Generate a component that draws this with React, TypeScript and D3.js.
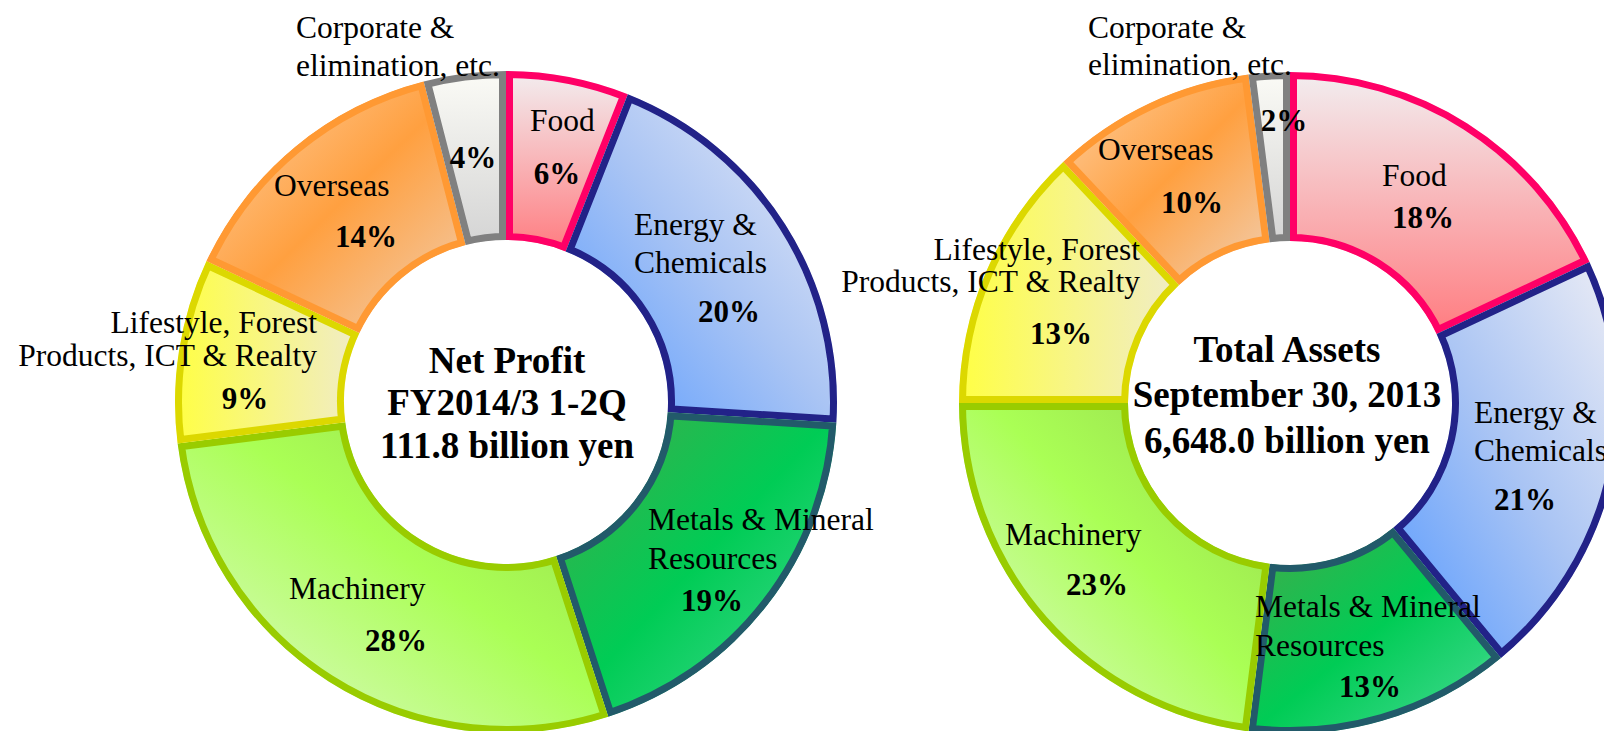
import React, { useEffect } from "react";
import * as d3 from "d3";

// ---------- data ----------
const segmentNames = [
  "Food",
  "Energy & Chemicals",
  "Metals & Mineral Resources",
  "Machinery",
  "Lifestyle, Forest Products, ICT & Realty",
  "Overseas",
  "Corporate & elimination, etc.",
];
const segmentLabelLines = [
  ["Food"],
  ["Energy &", "Chemicals"],
  ["Metals & Mineral", "Resources"],
  ["Machinery"],
  ["Lifestyle, Forest", "Products, ICT & Realty"],
  ["Overseas"],
  ["Corporate &", "elimination, etc."],
];
const netProfitShares = [6, 20, 19, 28, 9, 14, 4];
const totalAssetsShares = [18, 21, 13, 23, 13, 10, 2];
const netProfitTitle = ["Net Profit", "FY2014/3 1-2Q", "111.8 billion yen"];
const totalAssetsTitle = ["Total Assets", "September 30, 2013", "6,648.0 billion yen"];

// ---------- styles ----------
const W = 1604;
const H = 731;
const R_OUT = 331;
const R_IN = 162;
const STROKE = 7;
const FONT = "'Liberation Serif', 'Times New Roman', Times, serif";

const strokeColors = ["#ff0066", "#222288", "#225a6a", "#99cc00", "#dcd800", "#ff9933", "#808080"];
type Stop = [number, string];
const gradients: { x1: number; y1: number; x2: number; y2: number; stops: Stop[] }[] = [
  { x1: 0, y1: 0, x2: 0, y2: 1, stops: [[0, "#f2eef0"], [1, "#ff7c80"]] },
  { x1: 0, y1: 1, x2: 1, y2: 0, stops: [[0, "#5599ff"], [0.5, "#a9c4f4"], [1, "#eeeef5"]] },
  { x1: 0, y1: 0, x2: 1, y2: 1, stops: [[0, "#46a84a"], [0.5, "#00cc55"], [0.78, "#2ad47a"], [1, "#c4eec4"]] },
  { x1: 1, y1: 0, x2: 0, y2: 1, stops: [[0, "#96d64e"], [0.45, "#aaff55"], [1, "#e4f8d4"]] },
  { x1: 0, y1: 0.5, x2: 1, y2: 0.5, stops: [[0, "#ffff44"], [1, "#f0ecc8"]] },
  { x1: 0, y1: 0, x2: 1, y2: 1, stops: [[0, "#fdd2a6"], [0.5, "#ffa040"], [1, "#f0d0b4"]] },
  { x1: 0, y1: 0, x2: 0, y2: 1, stops: [[0, "#fbfbf6"], [1, "#d4d4d4"]] },
];

// ---------- layout (label anchors, absolute page coords) ----------
type LabelPos = { nx: number; ny: number[]; anchor: "start" | "end" | "middle"; px: number; py: number };
const netProfitLayout = {
  cx: 506,
  cy: 402,
  titleX: 507,
  titleY: [373, 415, 458],
  labels: [
    { nx: 530, ny: [131], anchor: "start", px: 557, py: 184 },
    { nx: 634, ny: [235, 273], anchor: "start", px: 729, py: 322 },
    { nx: 648, ny: [530, 569], anchor: "start", px: 712, py: 611 },
    { nx: 289, ny: [599], anchor: "start", px: 396, py: 651 },
    { nx: 317, ny: [333, 366], anchor: "end", px: 245, py: 409 },
    { nx: 274, ny: [196], anchor: "start", px: 366, py: 247 },
    { nx: 296, ny: [38, 76], anchor: "start", px: 473, py: 168 },
  ] as LabelPos[],
};
const totalAssetsLayout = {
  cx: 1290,
  cy: 403,
  titleX: 1287,
  titleY: [362, 407, 453],
  labels: [
    { nx: 1382, ny: [186], anchor: "start", px: 1423, py: 228 },
    { nx: 1474, ny: [423, 461], anchor: "start", px: 1525, py: 510 },
    { nx: 1255, ny: [617, 656], anchor: "start", px: 1370, py: 697 },
    { nx: 1005, ny: [545], anchor: "start", px: 1097, py: 595 },
    { nx: 1140, ny: [260, 292], anchor: "end", px: 1061, py: 344 },
    { nx: 1098, ny: [160], anchor: "start", px: 1192, py: 213 },
    { nx: 1088, ny: [38, 75], anchor: "start", px: 1284, py: 131 },
  ] as LabelPos[],
};

function Donut({
  id,
  values,
  title,
  layout,
}: {
  id: string;
  values: number[];
  title: string[];
  layout: typeof netProfitLayout;
}) {
  const pie = d3
    .pie<number>()
    .sort(null)
    .value((d) => d)
    .startAngle(0)
    .endAngle(2 * Math.PI);
  const arcs = pie(values);
  const arcGen = d3
    .arc<d3.PieArcDatum<number>>()
    .innerRadius(R_IN)
    .outerRadius(R_OUT);
  return (
    <g>
      <defs>
        {arcs.map((a, i) => (
          <clipPath id={`${id}-clip-${i}`} key={i}>
            <path d={arcGen(a) || ""} transform={`translate(${layout.cx},${layout.cy})`} />
          </clipPath>
        ))}
      </defs>
      {arcs.map((a, i) => (
        <g key={i} clipPath={`url(#${id}-clip-${i})`}>
          <path
            d={arcGen(a) || ""}
            transform={`translate(${layout.cx},${layout.cy})`}
            fill={`url(#grad-${i})`}
            stroke={strokeColors[i]}
            strokeWidth={STROKE * 2}
            strokeLinejoin="miter"
          >
            <title>{segmentNames[i]}</title>
          </path>
        </g>
      ))}
      {arcs.map((a, i) => {
        const l = layout.labels[i];
        return (
          <g key={`t${i}`} fontFamily={FONT} fill="#000">
            {segmentLabelLines[i].map((line, j) => (
              <text key={j} x={l.nx} y={l.ny[j]} fontSize={31.5} textAnchor={l.anchor}>
                {line}
              </text>
            ))}
            <text x={l.px} y={l.py} fontSize={31} fontWeight="bold" textAnchor="middle">
              {`${a.data}%`}
            </text>
          </g>
        );
      })}
      <g fontFamily={FONT} fontWeight="bold" fontSize={37} textAnchor="middle" fill="#000">
        {title.map((t, j) => (
          <text key={j} x={layout.titleX} y={layout.titleY[j]}>
            {t}
          </text>
        ))}
      </g>
    </g>
  );
}

export default function App() {
  useEffect(() => {
    document.body.style.margin = "0";
    document.body.style.overflow = "hidden";
  }, []);
  return (
    <div style={{ position: "absolute", left: 0, top: 0, width: W, height: H, background: "#fff" }}>
      <svg width={W} height={H} viewBox={`0 0 ${W} ${H}`} style={{ display: "block" }}>
        <defs>
          {gradients.map((g, i) => (
            <linearGradient key={i} id={`grad-${i}`} x1={g.x1} y1={g.y1} x2={g.x2} y2={g.y2}>
              {g.stops.map(([o, c], k) => (
                <stop key={k} offset={o} stopColor={c} />
              ))}
            </linearGradient>
          ))}
        </defs>
        <rect width={W} height={H} fill="#fff" />
        <Donut id="np" values={netProfitShares} title={netProfitTitle} layout={netProfitLayout} />
        <Donut id="ta" values={totalAssetsShares} title={totalAssetsTitle} layout={totalAssetsLayout} />
      </svg>
    </div>
  );
}
